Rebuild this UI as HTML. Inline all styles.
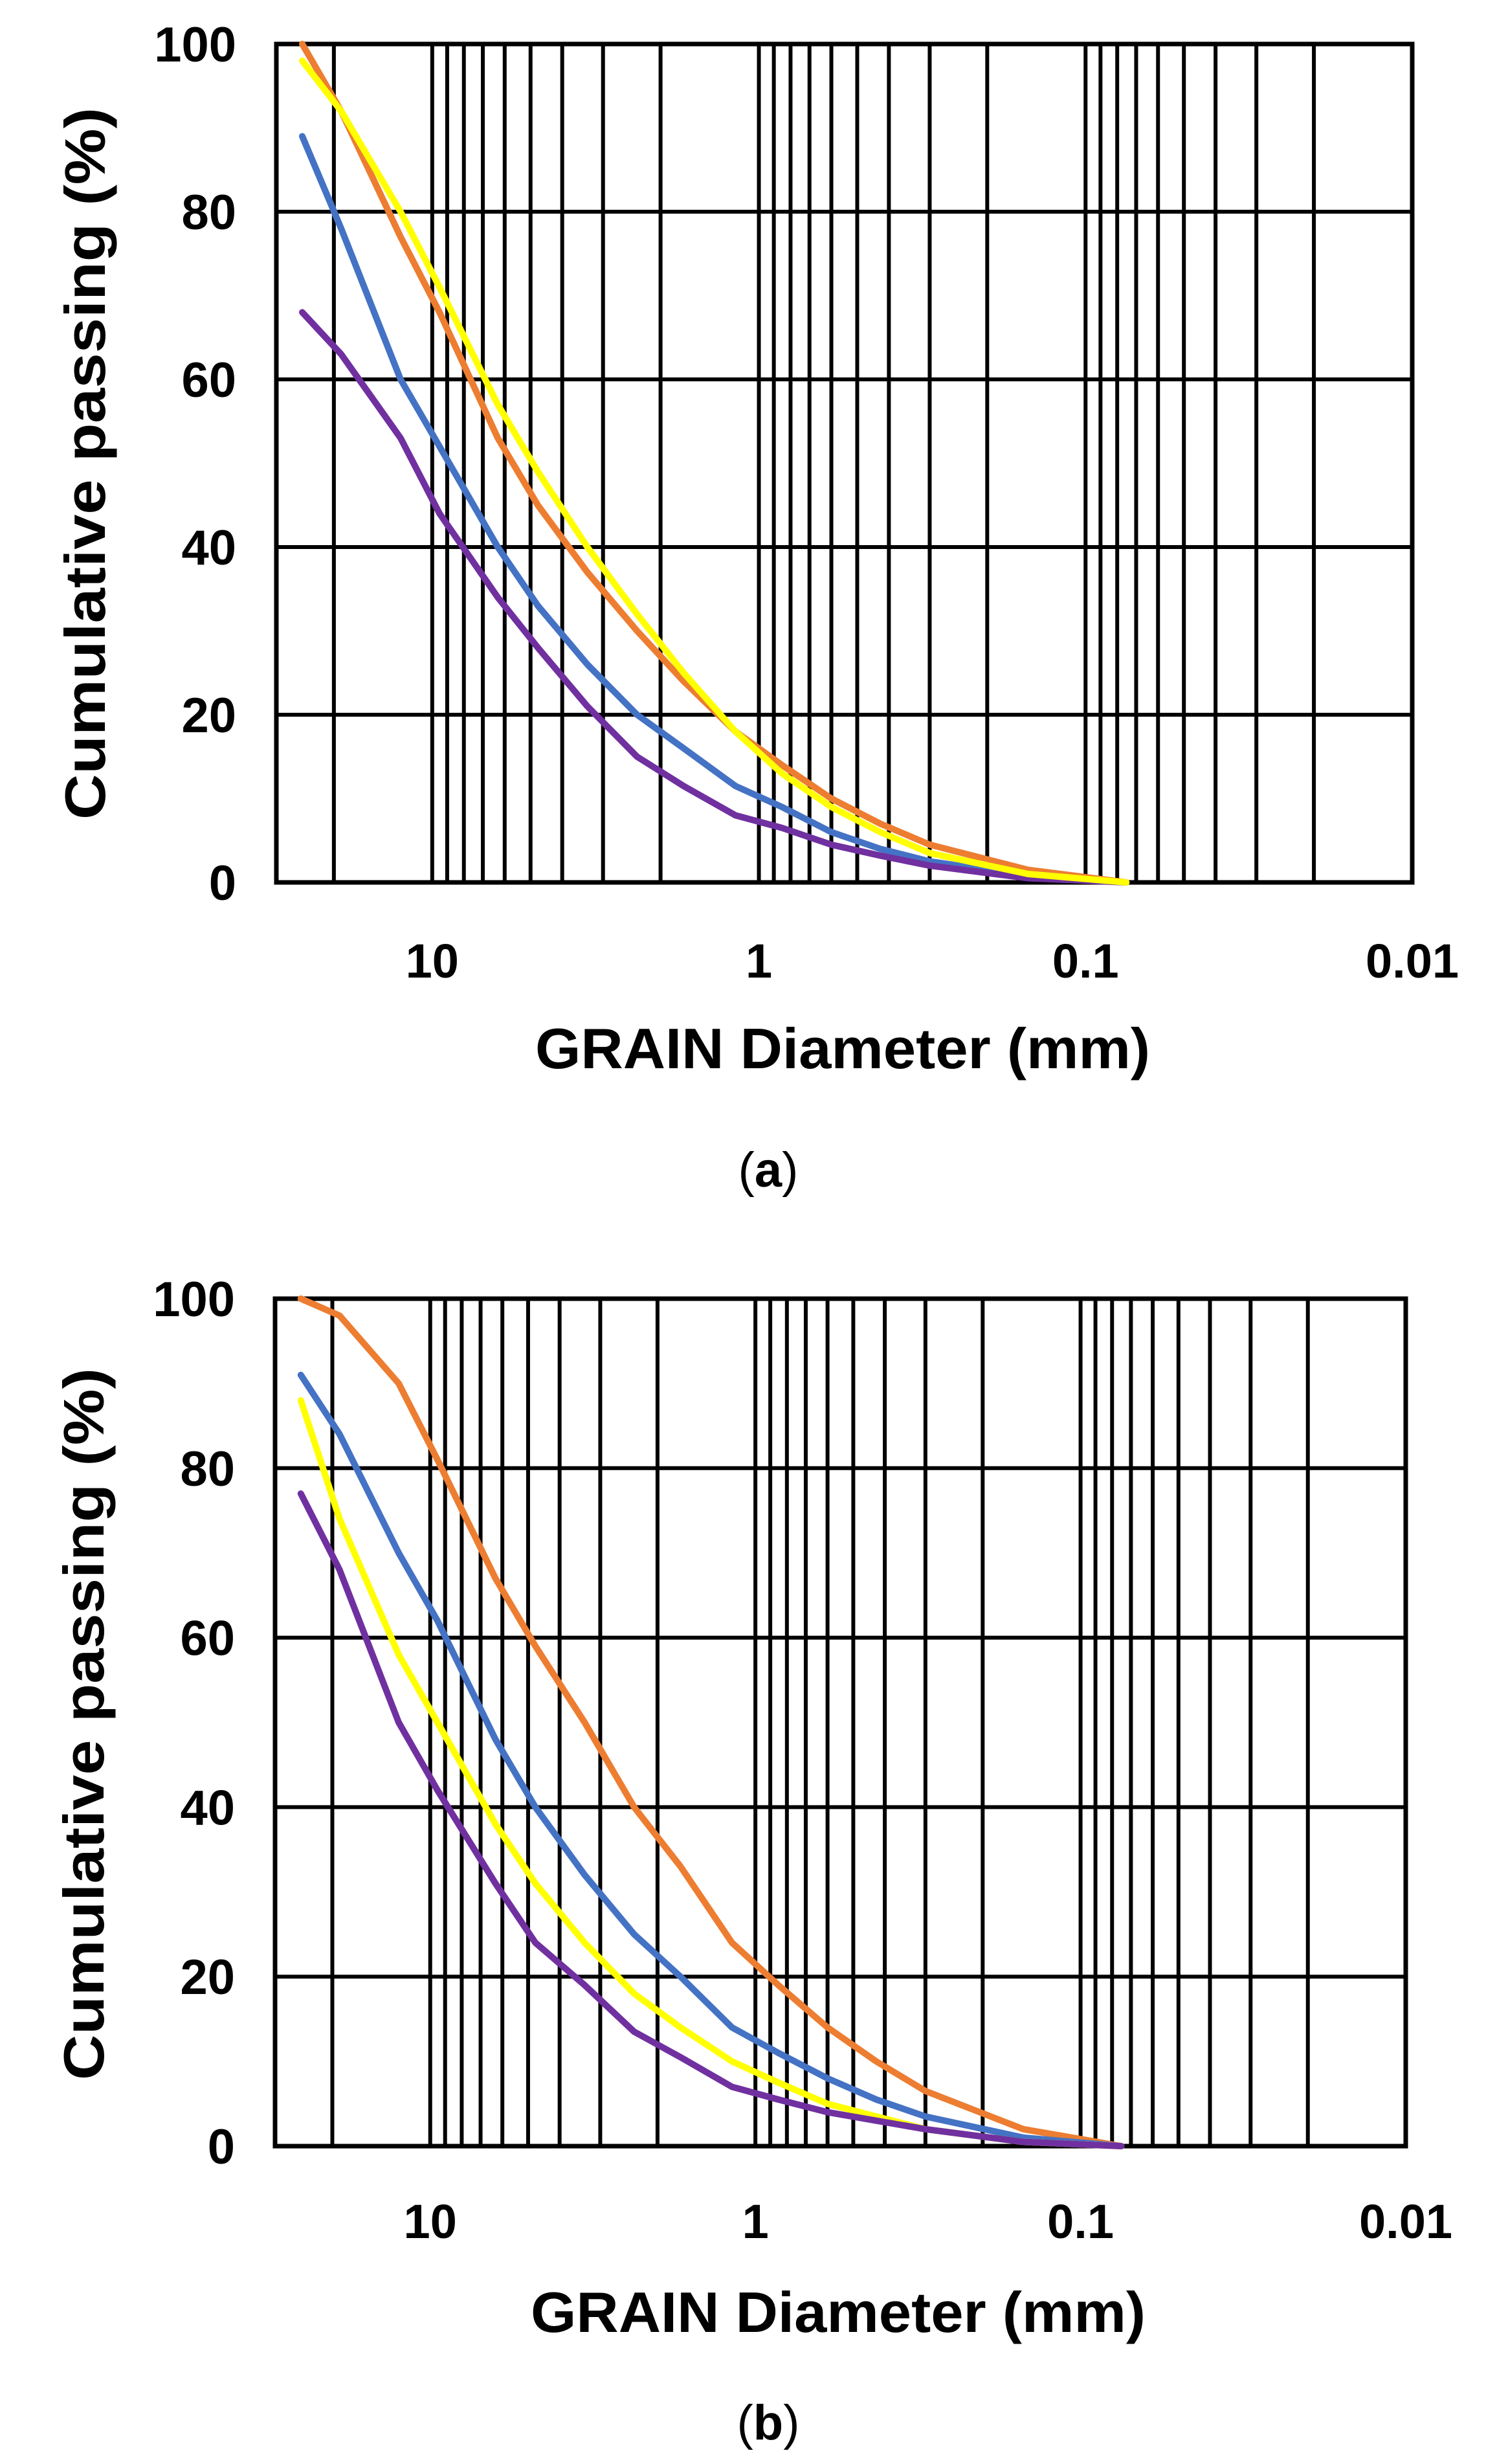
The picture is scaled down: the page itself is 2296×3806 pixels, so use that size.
<!DOCTYPE html>
<html><head><meta charset="utf-8"><style>
html,body{margin:0;padding:0;background:#fff;}
svg{display:block;}
text{font-family:"Liberation Sans",sans-serif;}
</style></head><body>
<svg id="fig" width="2296" height="3806" viewBox="0 0 2296 3806" xmlns="http://www.w3.org/2000/svg"></svg>
<script>
const sieveSizes = [25, 19, 12.5, 9.5, 6.3, 4.75, 3.35, 2.36, 1.7, 1.18, 0.85, 0.6, 0.425, 0.3, 0.15, 0.075];
const yTicks = [0, 20, 40, 60, 80, 100];
const xTickValues = [10, 1, 0.1, 0.01];
const xTickLabels = ["10", "1", "0.1", "0.01"];
const aBlue   = [89, 78, 60, 52, 40, 33, 26, 20, 16, 11.5, 9, 6, 4, 2.5, 0.8, 0];
const aPurple = [68, 63, 53, 44, 34, 28, 21, 15, 11.5, 8, 6.5, 4.5, 3.2, 2, 0.5, 0];
const aOrange = [100, 92, 77, 68, 53, 45, 37, 30, 24, 18, 14, 10, 7, 4.5, 1.5, 0];
const aYellow = [98, 92, 80, 71, 57, 49, 40, 32, 25, 18, 13, 9, 6, 3.5, 1, 0];
const bOrange = [100, 98, 90, 81, 67, 59, 50, 40, 33, 24, 19, 14, 10, 6.5, 2, 0];
const bBlue   = [91, 84, 70, 62, 48, 40, 32, 25, 20, 14, 11, 8, 5.5, 3.5, 1, 0];
const bYellow = [88, 74, 58, 50, 38, 31, 24, 18, 14, 10, 7.5, 5, 3.5, 2, 0.5, 0];
const bPurple = [77, 68, 50, 42, 31, 24, 19, 13.5, 10.5, 7, 5.5, 4, 3, 2, 0.5, 0];

const NS = "http://www.w3.org/2000/svg";
const svg = document.getElementById("fig");
const colors = {blue:"#4472C4", orange:"#ED7D31", yellow:"#FFFF00", purple:"#7030A0"};
function mk(tag, attrs, parent){const e=document.createElementNS(NS,tag);for(const k in attrs)e.setAttribute(k,attrs[k]);(parent||svg).appendChild(e);return e;}

function drawChart(cfg){
  const g = mk("g",{});
  
  
  const L=cfg.left,R=cfg.right,T=cfg.top,B=cfg.bottom;
  const lmax=Math.log10(30), lmin=Math.log10(0.01);
  const xs=d=>L+(lmax-Math.log10(d))/(lmax-lmin)*(R-L);
  const ys=v=>B-v/100*(B-T);
  const vals=[20,10];
  [1,0.1,0.01].forEach(dec=>{for(let m=9;m>=1;m--){vals.push(m*dec);}});
  vals.forEach(v=>{
    const l=mk("line",{x1:xs(v),x2:xs(v),y1:T,y2:B,stroke:"#000","stroke-width":6},g);
    
    
  });
  yTicks.forEach(t=>{
    const l=mk("line",{x1:L,x2:R,y1:ys(t),y2:ys(t),stroke:"#000","stroke-width":6},g);
    
    
    const tx=mk("text",{x:L-62,y:ys(t)+27,"text-anchor":"end","font-size":76,"font-weight":"bold"},g);
    tx.textContent=t;
    
    
  });
  const border=mk("rect",{x:L,y:T,width:R-L,height:B-T,fill:"none",stroke:"#000","stroke-width":7},g);
  
  
  xTickValues.forEach((v,i)=>{
    const tx=mk("text",{x:xs(v),y:cfg.xLabelY,"text-anchor":"middle","font-size":74,"font-weight":"bold"},g);
    tx.textContent=xTickLabels[i];
    
    
  });
  cfg.series.forEach(s=>{
    const pts=sieveSizes.map((d,i)=>xs(d).toFixed(1)+","+ys(s.values[i]).toFixed(1)).join(" ");
    const p=mk("polyline",{points:pts,fill:"none",stroke:colors[s.color],"stroke-width":10,"stroke-linejoin":"round","stroke-linecap":"round"},g);
    
    
  });
  const yt=mk("text",{x:0,y:0,transform:`translate(${cfg.yTitleX},${cfg.yTitleY}) rotate(-90)`,"text-anchor":"middle","font-size":88,"font-weight":"bold","textLength":1100,"lengthAdjust":"spacingAndGlyphs"},g);
  yt.textContent="Cumulative passing (%)";
  
  
  const xt=mk("text",{x:cfg.xTitleX,y:cfg.xTitleY,"text-anchor":"middle","font-size":88,"font-weight":"bold","textLength":950,"lengthAdjust":"spacingAndGlyphs"},g);
  xt.textContent="GRAIN Diameter (mm)";
  
  
  const cap=mk("text",{x:cfg.capX,y:cfg.capY,"text-anchor":"middle","font-size":76,"font-family":"Liberation Serif, serif"},g);
  cap.textContent="("; const b=mk("tspan",{"font-weight":"bold"},cap); b.textContent=cfg.cap; cap.appendChild(document.createTextNode(")"));
  
  
}

drawChart({name:"chart-a",left:427,right:2182,top:68,bottom:1363,xLabelY:1510,yTitleX:162,yTitleY:716,xTitleX:1302,xTitleY:1650,capX:1187,capY:1833,cap:"a",
  series:[{color:"blue",values:aBlue},{color:"purple",values:aPurple},{color:"orange",values:aOrange},{color:"yellow",values:aYellow}]});
drawChart({name:"chart-b",left:425,right:2172,top:2006,bottom:3315,xLabelY:3457,yTitleX:160,yTitleY:2663,xTitleX:1295,xTitleY:3602,capX:1187,capY:3768,cap:"b",
  series:[{color:"orange",values:bOrange},{color:"blue",values:bBlue},{color:"yellow",values:bYellow},{color:"purple",values:bPurple}]});
</script>
</body></html>
